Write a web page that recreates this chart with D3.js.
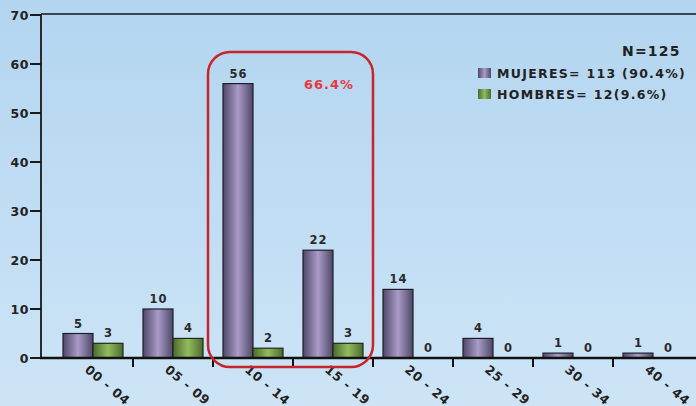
<!DOCTYPE html>
<html><head><meta charset="utf-8">
<script src="https://cdn.jsdelivr.net/npm/d3@7"></script>
<style>html,body{margin:0;padding:0;background:#b7d7f1;}svg{display:block;}</style>
</head><body>
<script>
const categories = ["00 - 04","05 - 09","10 - 14","15 - 19","20 - 24","25 - 29","30 - 34","40 - 44"];
const mujeres = [5,10,56,22,14,4,1,1];
const hombres = [3,4,2,3,0,0,0,0];
const yTicks = [0,10,20,30,40,50,60,70];
const legendLabels = ["MUJERES= 113 (90.4%)","HOMBRES= 12(9.6%)"];
const totalLabel = "N=125";
const highlightLabel = "66.4%";

const W=696,H=406;
const svg=d3.select("body").append("svg").attr("width",W).attr("height",H);
const defs=svg.append("defs");
const bg=defs.append("linearGradient").attr("id","bg").attr("x1",0).attr("y1",0).attr("x2",0).attr("y2",1);
bg.append("stop").attr("offset","0%").attr("stop-color","#b3d5f0");
bg.append("stop").attr("offset","100%").attr("stop-color","#cde4f6");
function hgrad(id,dark,light){
  const g=defs.append("linearGradient").attr("id",id).attr("x1",0).attr("y1",0).attr("x2",1).attr("y2",0);
  g.append("stop").attr("offset","0%").attr("stop-color",dark);
  g.append("stop").attr("offset","50%").attr("stop-color",light);
  g.append("stop").attr("offset","100%").attr("stop-color",dark);
}
hgrad("gm","#4f4667","#a99cc8");
hgrad("gh","#4c6a2c","#92bb60");
svg.append("rect").attr("width",W).attr("height",H).attr("fill","url(#bg)");

const font="'DejaVu Sans', Verdana, sans-serif";
const x=d3.scaleBand().domain(categories).range([53,693]);
const y=d3.scaleLinear().domain([0,70]).range([358,15]);
const barW=30;

// top border
svg.append("line").attr("x1",41).attr("x2",W).attr("y1",14).attr("y2",14).attr("stroke","#3b4552").attr("stroke-width",2);

// bars
const groups=svg.append("g");
categories.forEach((c,i)=>{
  const cx=x(c)+x.bandwidth()/2;
  const vm=mujeres[i], vh=hombres[i];
  if(vm>0) groups.append("rect").attr("x",cx-barW).attr("y",y(vm)).attr("width",barW).attr("height",y(0)-y(vm))
     .attr("fill","url(#gm)").attr("stroke","#1e1e28").attr("stroke-width",1.2);
  if(vh>0) groups.append("rect").attr("x",cx).attr("y",y(vh)).attr("width",barW).attr("height",y(0)-y(vh))
     .attr("fill","url(#gh)").attr("stroke","#1e2818").attr("stroke-width",1.2);
  groups.append("text").attr("x",cx-barW/2+0.5).attr("y",y(vm)-6).attr("text-anchor","middle")
     .attr("font-family",font).attr("font-weight","bold").attr("font-size",11.5).attr("letter-spacing",1).attr("fill","#2a2a2a").text(vm);
  groups.append("text").attr("x",cx+barW/2+0.5).attr("y",y(vh)-6).attr("text-anchor","middle")
     .attr("font-family",font).attr("font-weight","bold").attr("font-size",11.5).attr("letter-spacing",1).attr("fill","#2a2a2a").text(vh);
});

// y axis
const ya=svg.append("g");
ya.append("line").attr("x1",41).attr("x2",41).attr("y1",14).attr("y2",359).attr("stroke","#2b2b2b").attr("stroke-width",2);
yTicks.forEach(t=>{
  ya.append("line").attr("x1",30).attr("x2",41).attr("y1",y(t)).attr("y2",y(t)).attr("stroke","#1a1a1a").attr("stroke-width",2);
  ya.append("text").attr("x",29).attr("y",y(t)+4.5).attr("text-anchor","end").attr("font-family",font)
    .attr("font-weight","bold").attr("font-size",12.5).attr("letter-spacing",0.6).attr("fill","#222").text(t);
});

// x axis
const xa=svg.append("g");
xa.append("line").attr("x1",40).attr("x2",W).attr("y1",358).attr("y2",358).attr("stroke","#111").attr("stroke-width",2.5);
categories.forEach((c,i)=>{
  if(i>0){
    const bx=x(c);
    xa.append("line").attr("x1",bx).attr("x2",bx).attr("y1",358).attr("y2",367).attr("stroke","#111").attr("stroke-width",2);
  }
  const cx=x(c)+x.bandwidth()/2;
  xa.append("text").attr("transform",`translate(${cx-9},${371}) rotate(40)`)
    .attr("font-family",font).attr("font-weight","bold").attr("font-size",12.5).attr("letter-spacing",0.8).attr("fill","#222").text(c);
});

// highlight rounded rect
const hx0=x(categories[2])-5, hx1=x(categories[3])+x.bandwidth();
svg.append("rect").attr("x",hx0).attr("y",52).attr("width",hx1-hx0).attr("height",315)
  .attr("rx",22).attr("ry",22).attr("fill","none").attr("stroke","#c8242c").attr("stroke-width",2.5);
svg.append("text").attr("x",304).attr("y",89).attr("font-family",font)
  .attr("font-weight","bold").attr("font-size",13).attr("letter-spacing",1).attr("fill","#e8383d").text(highlightLabel);

// legend
svg.append("text").attr("x",622).attr("y",56).attr("font-family",font)
  .attr("font-weight","bold").attr("font-size",14).attr("letter-spacing",1.2).attr("fill","#222").text(totalLabel);
const lg=[["url(#gm)","#4f4667"],["url(#gh)","#4c6a2c"]];
legendLabels.forEach((l,i)=>{
  const ly=68+i*21;
  svg.append("rect").attr("x",478).attr("y",ly).attr("width",13).attr("height",10).attr("fill",lg[i][0]);
  svg.append("text").attr("x",497).attr("y",ly+10).attr("font-family",font).attr("font-weight","bold")
    .attr("font-size",12.5).attr("letter-spacing",1.3).attr("fill","#222").text(l);
});
</script>
</body></html>
